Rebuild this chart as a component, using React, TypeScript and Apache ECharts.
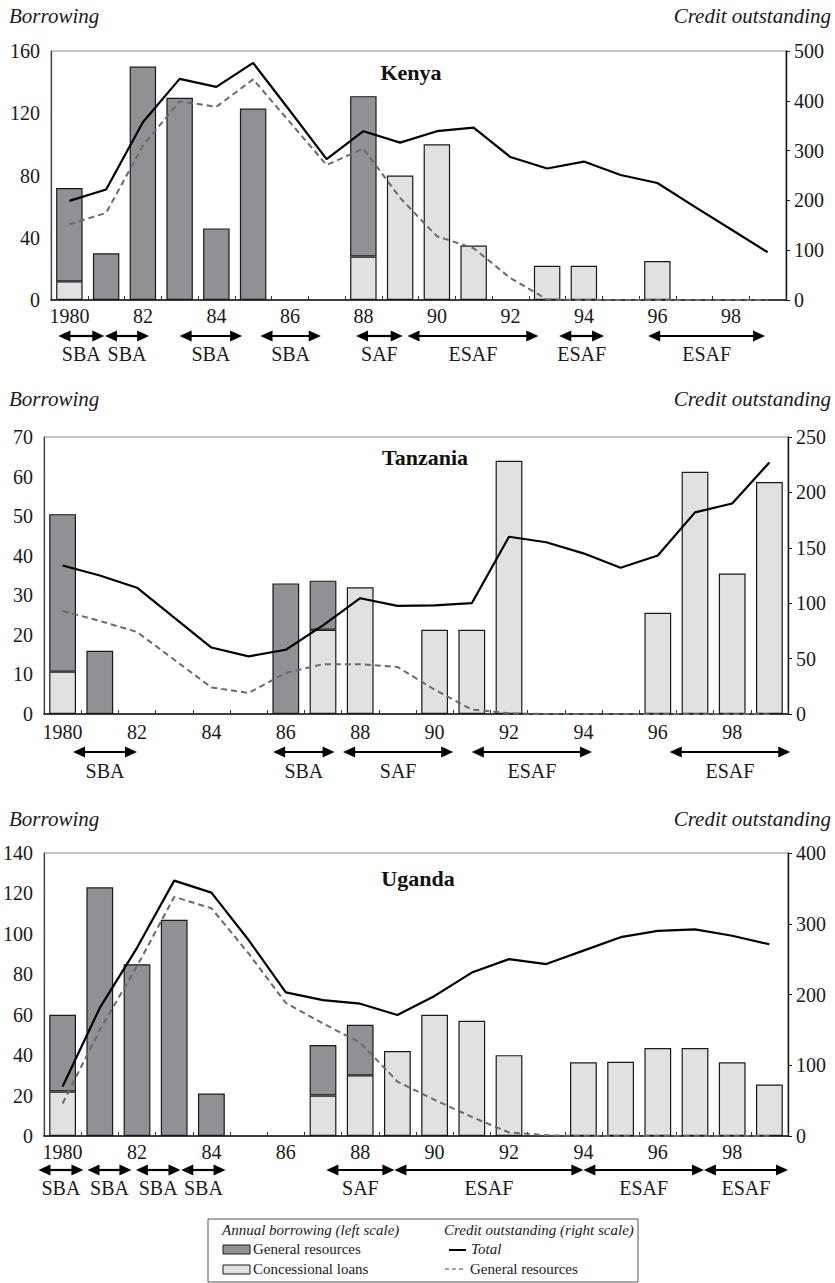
import { useEffect, useRef } from 'react';
import * as echarts from 'echarts';

// ---------- data ----------
const years = ['1980', '1981', '1982', '1983', '1984', '1985', '1986', '1987', '1988', '1989',
  '1990', '1991', '1992', '1993', '1994', '1995', '1996', '1997', '1998', '1999'];

// Kenya
const kenyaGeneral = [60, 30, 150, 130, 46, 123, 0, 0, 103, 0, 0, 0, 0, 0, 0, 0, 0, 0, 0, 0];
const kenyaConcessional = [12, 0, 0, 0, 0, 0, 0, 0, 28, 80, 100, 35, 0, 22, 22, 0, 25, 0, 0, 0];
const kenyaCreditTotal = [199, 222, 357, 444, 428, 476, 380, 283, 339, 316, 339, 346, 287, 264, 278, 251, 235, 188, 142, 96];
const kenyaCreditGeneral = [152, 175, 310, 399, 388, 443, 357, 271, 304, 205, 128, 104, 44, 1, 0, 0, 0, 0, 0, 0];
const kenyaLeftTicks = [0, 40, 80, 120, 160];
const kenyaRightTicks = [0, 100, 200, 300, 400, 500];
const kenyaPrograms = [
  { label: 'SBA', from: 1979.7, to: 1980.95 },
  { label: 'SBA', from: 1980.97, to: 1982.17 },
  { label: 'SBA', from: 1983.0, to: 1984.7 },
  { label: 'SBA', from: 1985.2, to: 1986.84 },
  { label: 'SAF', from: 1987.8, to: 1989.07 },
  { label: 'ESAF', from: 1989.2, to: 1992.76 },
  { label: 'ESAF', from: 1993.33, to: 1994.55 },
  { label: 'ESAF', from: 1995.75, to: 1998.93 },
];

// Tanzania
const tanzaniaGeneral = [39.8, 16, 0, 0, 0, 0, 33, 12.4, 0, 0, 0, 0, 0, 0, 0, 0, 0, 0, 0, 0];
const tanzaniaConcessional = [10.7, 0, 0, 0, 0, 0, 0, 21.3, 32, 0, 21.3, 21.3, 64, 0, 0, 0, 25.6, 61.2, 35.5, 58.6];
const tanzaniaCreditTotal = [134, 125, 114, 87, 60, 52, 58, 80, 104.5, 97.6, 98, 100, 160, 155, 145, 132, 143, 182, 190, 227];
const tanzaniaCreditGeneral = [93, 84, 74, 49, 24, 19, 37, 45, 45, 42.5, 22, 4, 0.6, 0, 0, 0, 0, 0, 0, 0];
const tanzaniaLeftTicks = [0, 10, 20, 30, 40, 50, 60, 70];
const tanzaniaRightTicks = [0, 50, 100, 150, 200, 250];
const tanzaniaPrograms = [
  { label: 'SBA', from: 1980.28, to: 1982.0 },
  { label: 'SBA', from: 1985.66, to: 1987.31 },
  { label: 'SAF', from: 1987.54, to: 1990.5 },
  { label: 'ESAF', from: 1991.0, to: 1994.23 },
  { label: 'ESAF', from: 1996.32, to: 1999.56 },
];

// Uganda
const ugandaGeneral = [38, 123, 85, 107, 21, 0, 0, 25, 25, 0, 0, 0, 0, 0, 0, 0, 0, 0, 0, 0];
const ugandaConcessional = [22, 0, 0, 0, 0, 0, 0, 20, 30, 42, 60, 57, 40, 0, 36.5, 36.7, 43.5, 43.5, 36.5, 25.5];
const ugandaCreditTotal = [70, 181, 266, 361, 344, 277, 203, 192, 187, 171, 198, 231, 250, 243, 262, 281, 290, 292, 283, 271];
const ugandaCreditGeneral = [46, 150, 240, 338, 322, 258, 188, 159, 132, 77, 51, 27, 5, 1, 0, 0, 0, 0, 0, 0];
const ugandaLeftTicks = [0, 20, 40, 60, 80, 100, 120, 140];
const ugandaRightTicks = [0, 100, 200, 300, 400];
const ugandaPrograms = [
  { label: 'SBA', from: 1979.35, to: 1980.56 },
  { label: 'SBA', from: 1980.67, to: 1981.85 },
  { label: 'SBA', from: 1981.97, to: 1983.17 },
  { label: 'SBA', from: 1983.19, to: 1984.38 },
  { label: 'SAF', from: 1987.09, to: 1988.92 },
  { label: 'ESAF', from: 1988.92, to: 1994.0 },
  { label: 'ESAF', from: 1994.0, to: 1997.24 },
  { label: 'ESAF', from: 1997.24, to: 1999.5 },
];

// ---------- layout / style ----------
const FONT = 'Liberation Serif, DejaVu Serif, serif';
const DARK = '#909195';
const LIGHT = '#e0e1e3';
const EDGE = '#1a1a1a';

const panels = [
  {
    name: 'Kenya', general: kenyaGeneral, concessional: kenyaConcessional,
    total: kenyaCreditTotal, genCredit: kenyaCreditGeneral,
    leftTicks: kenyaLeftTicks, rightTicks: kenyaRightTicks, programs: kenyaPrograms,
    grid: { left: 51, top: 51, width: 735, height: 249 },
    headerY: 16, titleX: 411, titleY: 72, arrowY: 336, labelY: 354, xLabelMargin: 6,
  },
  {
    name: 'Tanzania', general: tanzaniaGeneral, concessional: tanzaniaConcessional,
    total: tanzaniaCreditTotal, genCredit: tanzaniaCreditGeneral,
    leftTicks: tanzaniaLeftTicks, rightTicks: tanzaniaRightTicks, programs: tanzaniaPrograms,
    grid: { left: 44, top: 437, width: 744, height: 277 },
    headerY: 399, titleX: 425, titleY: 457, arrowY: 752, labelY: 771, xLabelMargin: 8,
  },
  {
    name: 'Uganda', general: ugandaGeneral, concessional: ugandaConcessional,
    total: ugandaCreditTotal, genCredit: ugandaCreditGeneral,
    leftTicks: ugandaLeftTicks, rightTicks: ugandaRightTicks, programs: ugandaPrograms,
    grid: { left: 42, top: 853, width: 746, height: 283 },
    headerY: 819, titleX: 418, titleY: 878, arrowY: 1170, labelY: 1188, xLabelMargin: 6,
  },
];

function buildOption() {
  const grid: any[] = [];
  const xAxis: any[] = [];
  const yAxis: any[] = [];
  const series: any[] = [];
  panels.forEach((p, i) => {
    grid.push({ ...p.grid, show: true, borderColor: '#8a8a8a', borderWidth: 1, containLabel: false });
    xAxis.push({
      type: 'category', gridIndex: i, data: years, boundaryGap: true,
      axisLine: { show: true, lineStyle: { color: '#111', width: 1.6 } },
      axisTick: { show: true, inside: true, length: 4, interval: 0, lineStyle: { color: '#333' } },
      axisLabel: {
        interval: 1, margin: p.xLabelMargin, color: '#1a1a1a', fontFamily: FONT, fontSize: 20,
        formatter: (v: string, idx: number) => (idx === 0 ? v : v.slice(2)),
      },
      splitLine: { show: false },
    });
    const lt = p.leftTicks;
    const rt = p.rightTicks;
    yAxis.push({
      type: 'value', gridIndex: i, position: 'left',
      min: lt[0], max: lt[lt.length - 1], interval: lt[1] - lt[0],
      axisLine: { show: true, lineStyle: { color: '#444', width: 1.2 } },
      axisTick: { show: false },
      axisLabel: { margin: 11, color: '#1a1a1a', fontFamily: FONT, fontSize: 20 },
      splitLine: { show: false },
    });
    yAxis.push({
      type: 'value', gridIndex: i, position: 'right',
      min: rt[0], max: rt[rt.length - 1], interval: rt[1] - rt[0],
      axisLine: { show: true, lineStyle: { color: '#111', width: 1.4 } },
      axisTick: { show: true, inside: false, length: 4, lineStyle: { color: '#111' } },
      axisLabel: { margin: 8, color: '#1a1a1a', fontFamily: FONT, fontSize: 20 },
      splitLine: { show: false },
    });
    series.push({
      type: 'bar', name: 'Concessional loans', xAxisIndex: i, yAxisIndex: 2 * i, stack: 'b' + i,
      data: p.concessional.map((v) => (v ? v : null)), barWidth: '72%',
      itemStyle: { color: LIGHT, borderColor: EDGE, borderWidth: 1.2 }, z: 2,
    });
    series.push({
      type: 'bar', name: 'General resources', xAxisIndex: i, yAxisIndex: 2 * i, stack: 'b' + i,
      data: p.general.map((v) => (v ? v : null)), barWidth: '72%',
      itemStyle: { color: DARK, borderColor: EDGE, borderWidth: 1.2 }, z: 2,
    });
    series.push({
      type: 'line', name: 'Total', xAxisIndex: i, yAxisIndex: 2 * i + 1, data: p.total,
      symbol: 'none', lineStyle: { color: '#000', width: 2.2 }, z: 5,
    });
    series.push({
      type: 'line', name: 'General resources credit', xAxisIndex: i, yAxisIndex: 2 * i + 1, data: p.genCredit,
      symbol: 'none', lineStyle: { color: '#6a6a6a', width: 2, type: [6, 4] }, z: 4,
    });
  });
  return { animation: false, backgroundColor: '#fff', grid, xAxis, yAxis, series };
}

function text(t: string, x: number, y: number, fontSize: number, fontStyle = 'normal', fontWeight = 'normal', align = 'left', fill = '#1a1a1a') {
  return {
    type: 'text', x, y, silent: true,
    style: { text: t, fontFamily: FONT, fontSize, fontStyle, fontWeight, fill, align, verticalAlign: 'middle' },
  };
}

function buildGraphics(chart: any) {
  const els: any[] = [];
  panels.forEach((p, i) => {
    els.push(text('Borrowing', 9, p.headerY, 21, 'italic'));
    els.push(text('Credit outstanding', 831, p.headerY, 21, 'italic', 'normal', 'right'));
    els.push(text(p.name, p.titleX, p.titleY, 22, 'normal', 'bold', 'center', '#111'));
    const c0 = chart.convertToPixel({ xAxisIndex: i }, years[0]);
    const c1 = chart.convertToPixel({ xAxisIndex: i }, years[1]);
    const bw = c1 - c0;
    const base = Number(years[0]);
    const px = (yr: number) => c0 + (yr - base) * bw;
    const y = p.arrowY;
    const hl = 12;
    const hw = 5.5;
    p.programs.forEach((pr) => {
      const x1 = px(pr.from);
      const x2 = px(pr.to);
      els.push({ type: 'line', silent: true, shape: { x1: x1 + hl - 1, y1: y, x2: x2 - hl + 1, y2: y }, style: { stroke: '#000', lineWidth: 2.2 } });
      els.push({ type: 'polygon', silent: true, shape: { points: [[x1, y], [x1 + hl, y - hw], [x1 + hl, y + hw]] }, style: { fill: '#000' } });
      els.push({ type: 'polygon', silent: true, shape: { points: [[x2, y], [x2 - hl, y - hw], [x2 - hl, y + hw]] }, style: { fill: '#000' } });
      els.push(text(pr.label, (x1 + x2) / 2, p.labelY, 20, 'normal', 'normal', 'center'));
    });
  });
  // legend box
  els.push({ type: 'rect', silent: true, shape: { x: 208, y: 1219, width: 430, height: 63 }, style: { fill: 'none', stroke: '#555', lineWidth: 1 } });
  els.push(text('Annual borrowing (left scale)', 222, 1230, 15, 'italic'));
  els.push({ type: 'rect', silent: true, shape: { x: 223, y: 1245, width: 27, height: 9 }, style: { fill: DARK, stroke: EDGE, lineWidth: 1 } });
  els.push(text('General resources', 253, 1249, 15));
  els.push({ type: 'rect', silent: true, shape: { x: 223, y: 1265, width: 27, height: 9 }, style: { fill: LIGHT, stroke: EDGE, lineWidth: 1 } });
  els.push(text('Concessional loans', 253, 1269, 15));
  els.push(text('Credit outstanding (right scale)', 444, 1230, 15, 'italic'));
  els.push({ type: 'line', silent: true, shape: { x1: 449, y1: 1250, x2: 466, y2: 1250 }, style: { stroke: '#000', lineWidth: 2 } });
  els.push(text('Total', 471, 1249, 15, 'italic'));
  els.push({ type: 'line', silent: true, shape: { x1: 445, y1: 1269, x2: 464, y2: 1269 }, style: { stroke: '#444', lineWidth: 1.2, lineDash: [4, 3] } });
  els.push(text('General resources', 470, 1269, 15));
  return els;
}

export default function App() {
  const ref = useRef<HTMLDivElement>(null);
  useEffect(() => {
    const el = ref.current;
    if (!el) return;
    const chart = echarts.init(el, null, { renderer: 'svg' });
    chart.setOption(buildOption());
    chart.setOption({ graphic: { elements: buildGraphics(chart) } });
    return () => chart.dispose();
  }, []);
  return (
    <div
      ref={ref}
      style={{ position: 'absolute', left: 0, top: 0, width: 835, height: 1283, background: '#fff' }}
    />
  );
}
